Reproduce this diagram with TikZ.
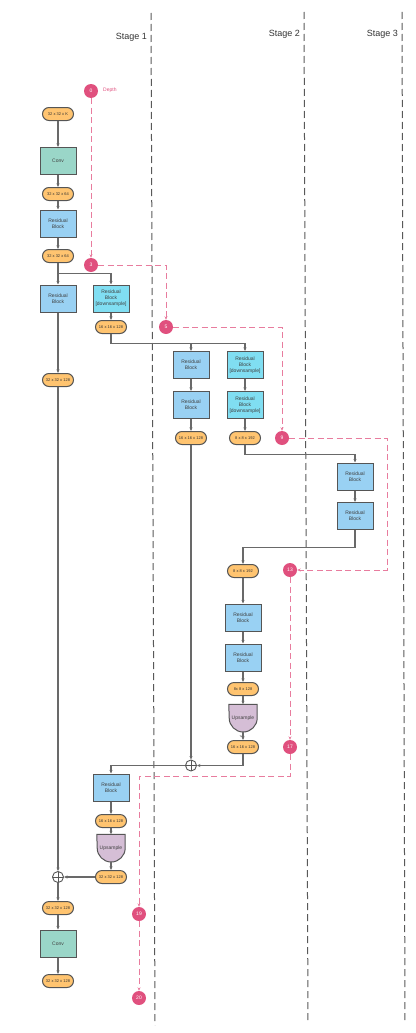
\documentclass[tikz,border=0pt]{standalone}
\usepackage{fontspec}
\setmainfont{Liberation Sans}
\usetikzlibrary{arrows.meta, backgrounds}
\definecolor{pillfill}{RGB}{255,196,112}
\definecolor{resfill}{RGB}{153,209,243}
\definecolor{downfill}{RGB}{128,222,242}
\definecolor{convfill}{RGB}{154,214,200}
\definecolor{upfill}{RGB}{213,190,214}
\definecolor{depthpink}{RGB}{224,80,126}
\definecolor{edge}{RGB}{85,85,85}
\definecolor{wire}{RGB}{105,105,105}
\tikzset{
    shapebox/.style={rectangle, draw=edge, line width=1pt, minimum width=36pt, minimum height=27pt, inner sep=0pt, align=center, font=\fontsize{5}{6}\selectfont, text=black!75},
    resblock/.style={shapebox, fill=resfill},
    downblock/.style={shapebox, fill=downfill},
    convblock/.style={shapebox, fill=convfill},
    upsample/.style={rectangle, minimum width=28pt, minimum height=27pt, inner sep=0pt, font=\fontsize{5}{6}\selectfont, text=black!75},
    upshape/.style={draw=edge, line width=1pt, fill=upfill},
    tensor/.style={rectangle, rounded corners=6.5pt, draw=edge, line width=1pt, fill=pillfill, minimum width=31pt, minimum height=13pt, inner sep=0pt, font=\fontsize{4}{5}\selectfont, text=black!80},
    sumnode/.style={circle, draw=edge, fill=white, line width=0.9pt, minimum size=11pt, inner sep=0pt,
        path picture={\draw[edge, line width=0.7pt] (path picture bounding box.north) -- (path picture bounding box.south) (path picture bounding box.west) -- (path picture bounding box.east);}},
    flow/.style={->, >={Stealth[length=3.5pt, width=3pt]}, draw=wire, line width=1.2pt}
}

\begin{document}
\begin{tikzpicture}[
    x=1pt, y=-1pt,
    depthdot/.style={circle, fill=depthpink, minimum size=14pt, inner sep=0pt, text=white, font=\fontsize{5}{6}\selectfont},
    depthflow/.style={->, >={Stealth[length=3.5pt, width=3pt]}, draw=depthpink!75, line width=1pt, dash pattern=on 6pt off 3.5pt},
    stageline/.style={draw=black!65, line width=1pt, dash pattern=on 7pt off 4pt},
    stagelabel/.style={anchor=east, inner sep=0pt, font=\fontsize{9}{11}\selectfont, text=black!80}
]
    \useasboundingbox (0,0) rectangle (415,1033);

    % Stage borders
    \draw[stageline] (151,13) -- (155,1025);
    \draw[stageline] (304,12) -- (308,1023);
    \draw[stageline] (402,12) -- (405,1023);
    \node[stagelabel] (stage1) at (147,37) {Stage 1};
    \node[stagelabel] (stage2) at (300,34) {Stage 2};
    \node[stagelabel] (stage3) at (398,34) {Stage 3};

    % Stem
    \node[tensor] (pK) at (58,114) {32 x 32 x K};
    \node[convblock] (conv1) at (58,161) {Conv};
    \node[tensor] (p64a) at (58,194) {32 x 32 x 64};
    \node[resblock] (res1) at (58,223.5) {Residual\\Block};
    \node[tensor] (p64b) at (58,256) {32 x 32 x 64};

    % Stage 1 split
    \node[resblock] (res2) at (58,298.5) {Residual\\Block};
    \node[downblock] (rd1) at (111,298.5) {Residual\\Block\\{[downsample]}};
    \node[tensor] (p16a) at (111,327) {16 x 16 x 128};
    \node[tensor] (p128a) at (58,380) {32 x 32 x 128};

    % Stage 2 split
    \node[resblock] (res3) at (191,365) {Residual\\Block};
    \node[resblock] (res4) at (191,405) {Residual\\Block};
    \node[tensor] (p16b) at (191,438) {16 x 16 x 128};
    \node[downblock] (rd2) at (245,365) {Residual\\Block\\{[downsample]}};
    \node[downblock] (rd3) at (245,405) {Residual\\Block\\{[downsample]}};
    \node[tensor] (p192a) at (245,438) {8 x 8 x 192};

    % Stage 3
    \node[resblock] (res5) at (355,476.5) {Residual\\Block};
    \node[resblock] (res6) at (355,516) {Residual\\Block};

    % Back up through stage 2
    \node[tensor] (p192b) at (243,571) {8 x 8 x 192};
    \node[resblock] (res7) at (243,617.5) {Residual\\Block};
    \node[resblock] (res8) at (243,657.5) {Residual\\Block};
    \node[tensor] (p128b) at (243,689) {8x 8 x 128};
    \node[upsample] (up1) at (243,718) {Upsample};
    \node[font=\fontsize{2.5}{3}\selectfont, text=black!80, inner sep=0pt] (uptag) at (242,737) {Text};
    \node[tensor] (p16c) at (243,747) {16 x 16 x 128};
    \node[sumnode] (sum1) at (191,765.5) {};

    % Back up through stage 1
    \node[resblock] (res9) at (111,787.5) {Residual\\Block};
    \node[tensor] (p16d) at (111,821) {16 x 16 x 128};
    \node[upsample] (up2) at (111,848) {Upsample};
    \node[tensor] (p32a) at (111,877) {32 x 32 x 128};
    \node[sumnode] (sum2) at (58,877) {};

    % Head
    \node[tensor] (p32b) at (58,908) {32 x 32 x 128};
    \node[convblock] (conv2) at (58,943.5) {Conv};
    \node[tensor] (p32c) at (58,981) {32 x 32 x 128};

    % Upsample shapes
    \begin{scope}[on background layer]
        \filldraw[upshape] (up1.north west) -- (up1.north east) -- (up1.east) arc[start angle=0, end angle=-180, radius=14pt] -- cycle;
        \filldraw[upshape] (up2.north west) -- (up2.north east) -- (up2.east) arc[start angle=0, end angle=-180, radius=14pt] -- cycle;
    \end{scope}

    % Depth markers
    \node[depthdot] (d0) at (91,91) {0};
    \node[anchor=west, inner sep=0pt, text=depthpink, font=\fontsize{5}{6}\selectfont] (depthlbl) at (103,90) {Depth};
    \node[depthdot] (d3) at (91,265) {3};
    \node[depthdot] (d5) at (166,327) {5};
    \node[depthdot] (d9) at (282,438) {9};
    \node[depthdot] (d13) at (290,570) {13};
    \node[depthdot] (d17) at (290,747) {17};
    \node[depthdot] (d19) at (139,914) {19};
    \node[depthdot] (d20) at (139,998) {20};

    % Connections
    \draw[flow] (pK) -- (conv1);
    \draw[flow] (conv1) -- (p64a);
    \draw[flow] (p64a) -- (res1);
    \draw[flow] (res1) -- (p64b);
    \draw[flow] (p64b) -- (res2);
    \draw[flow] (p64b.south) -- ++(0,10.5) -| (rd1.north);
    \draw[flow] (rd1) -- (p16a);
    \draw[flow] (res2) -- (p128a);
    \draw[flow] (p16a.south) -- ++(0,9.5) -| (res3.north);
    \draw[flow] (p16a.south) -- ++(0,9.5) -| (rd2.north);
    \draw[flow] (res3) -- (res4);
    \draw[flow] (res4) -- (p16b);
    \draw[flow] (rd2) -- (rd3);
    \draw[flow] (rd3) -- (p192a);
    \draw[flow] (p192a.south) -- ++(0,9.5) -| (res5.north);
    \draw[flow] (res5) -- (res6);
    \draw[flow] (res6.south) -- ++(0,17.5) -| (p192b.north);
    \draw[flow] (p192b) -- (res7);
    \draw[flow] (res7) -- (res8);
    \draw[flow] (res8) -- (p128b);
    \draw[flow] (p128b) -- (up1);
    \draw[flow] (up1) -- (p16c);
    \draw[flow] (p16b) -- (sum1);
    \draw[flow] (p16c.south) |- (sum1.east);
    \draw[flow] (sum1.west) -| (res9.north);
    \draw[flow] (res9) -- (p16d);
    \draw[flow] (p16d) -- (up2);
    \draw[flow] (up2) -- (p32a);
    \draw[flow] (p32a) -- (sum2);
    \draw[flow] (p128a) -- (sum2);
    \draw[flow] (sum2) -- (p32b);
    \draw[flow] (p32b) -- (conv2);
    \draw[flow] (conv2) -- (p32c);

    % Depth path
    \draw[depthflow] (d0) -- (d3);
    \draw[depthflow] (d3.east) -| (d5.north);
    \draw[depthflow] (d5.east) -| (d9.north);
    \draw[depthflow] (d9.east) -- ++(98,0) |- (d13.east);
    \draw[depthflow] (d13) -- (d17);
    \draw[depthflow] (d17.south) -- ++(0,22) -| (d19.north);
    \draw[depthflow] (d19) -- (d20);
\end{tikzpicture}
\end{document}
